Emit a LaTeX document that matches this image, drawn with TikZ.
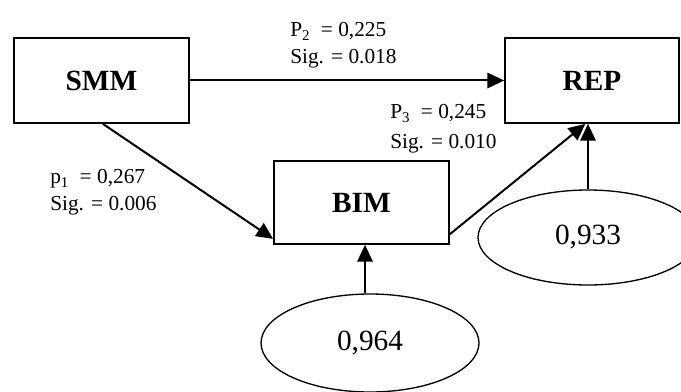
\documentclass[tikz,border=0pt]{standalone}
\usepackage{fontspec}
\setmainfont{Liberation Serif}
\usetikzlibrary{shapes.geometric,arrows.meta}
\tikzset{
  boxnode/.style={draw, line width=1.3pt, minimum width=131.25pt, minimum height=63.75pt, inner sep=0pt, font=\fontsize{22}{26}\selectfont\bfseries},
  errnode/.style={draw, ellipse, line width=1pt, inner sep=0pt, font=\fontsize{22}{26}\selectfont},
  lab/.style={anchor=west, align=left, inner sep=0pt, font=\fontsize{16}{20.25}\selectfont},
  arr/.style={line width=1.5pt, -{Triangle[length=12.5pt,width=11.5pt]}}
}
\begin{document}
\begin{tikzpicture}[x=0.75pt,y=-0.75pt]
\useasboundingbox (0,0) rectangle (681,392);
\clip (0,0) rectangle (681,392);
\node[boxnode] (SMM) at (101.5,80.5) {SMM};
\node[boxnode, minimum width=130.5pt] (REP) at (592,80.5) {REP};
\node[boxnode, minimum height=62.25pt] (BIM) at (361.5,202.5) {BIM};
\node[errnode, minimum width=165pt, minimum height=71.25pt] (e2) at (588,237.5) {0,933};
\node[errnode, minimum width=163.5pt, minimum height=73.5pt] (e1) at (370,343) {0,964};
\node[lab] (l2) at (290,45.5) {P\textsubscript{2}\ \ = 0,225\\Sig. = 0.018};
\node[lab, font=\fontsize{16}{22.5}\selectfont] (l3) at (390,129) {P\textsubscript{3}\ \ = 0,245\\Sig. = 0.010};
\node[lab] (l1) at (50,192.5) {p\textsubscript{1}\ \ = 0,267\\Sig. = 0.006};
\draw[arr] (SMM.east) -- (REP.west);
\draw[arr] ([xshift=1pt]SMM.south) -- ([yshift=4.5pt]BIM.south west);
\draw[arr] ([yshift=8pt]BIM.south east) -- ([xshift=-5pt]REP.south);
\draw[arr] (e2.north) -- (e2.north |- REP.south);
\draw[arr] ([xshift=-3.75pt]e1.north) -- ([xshift=-3.75pt]e1.north |- BIM.south);
\end{tikzpicture}
\end{document}
